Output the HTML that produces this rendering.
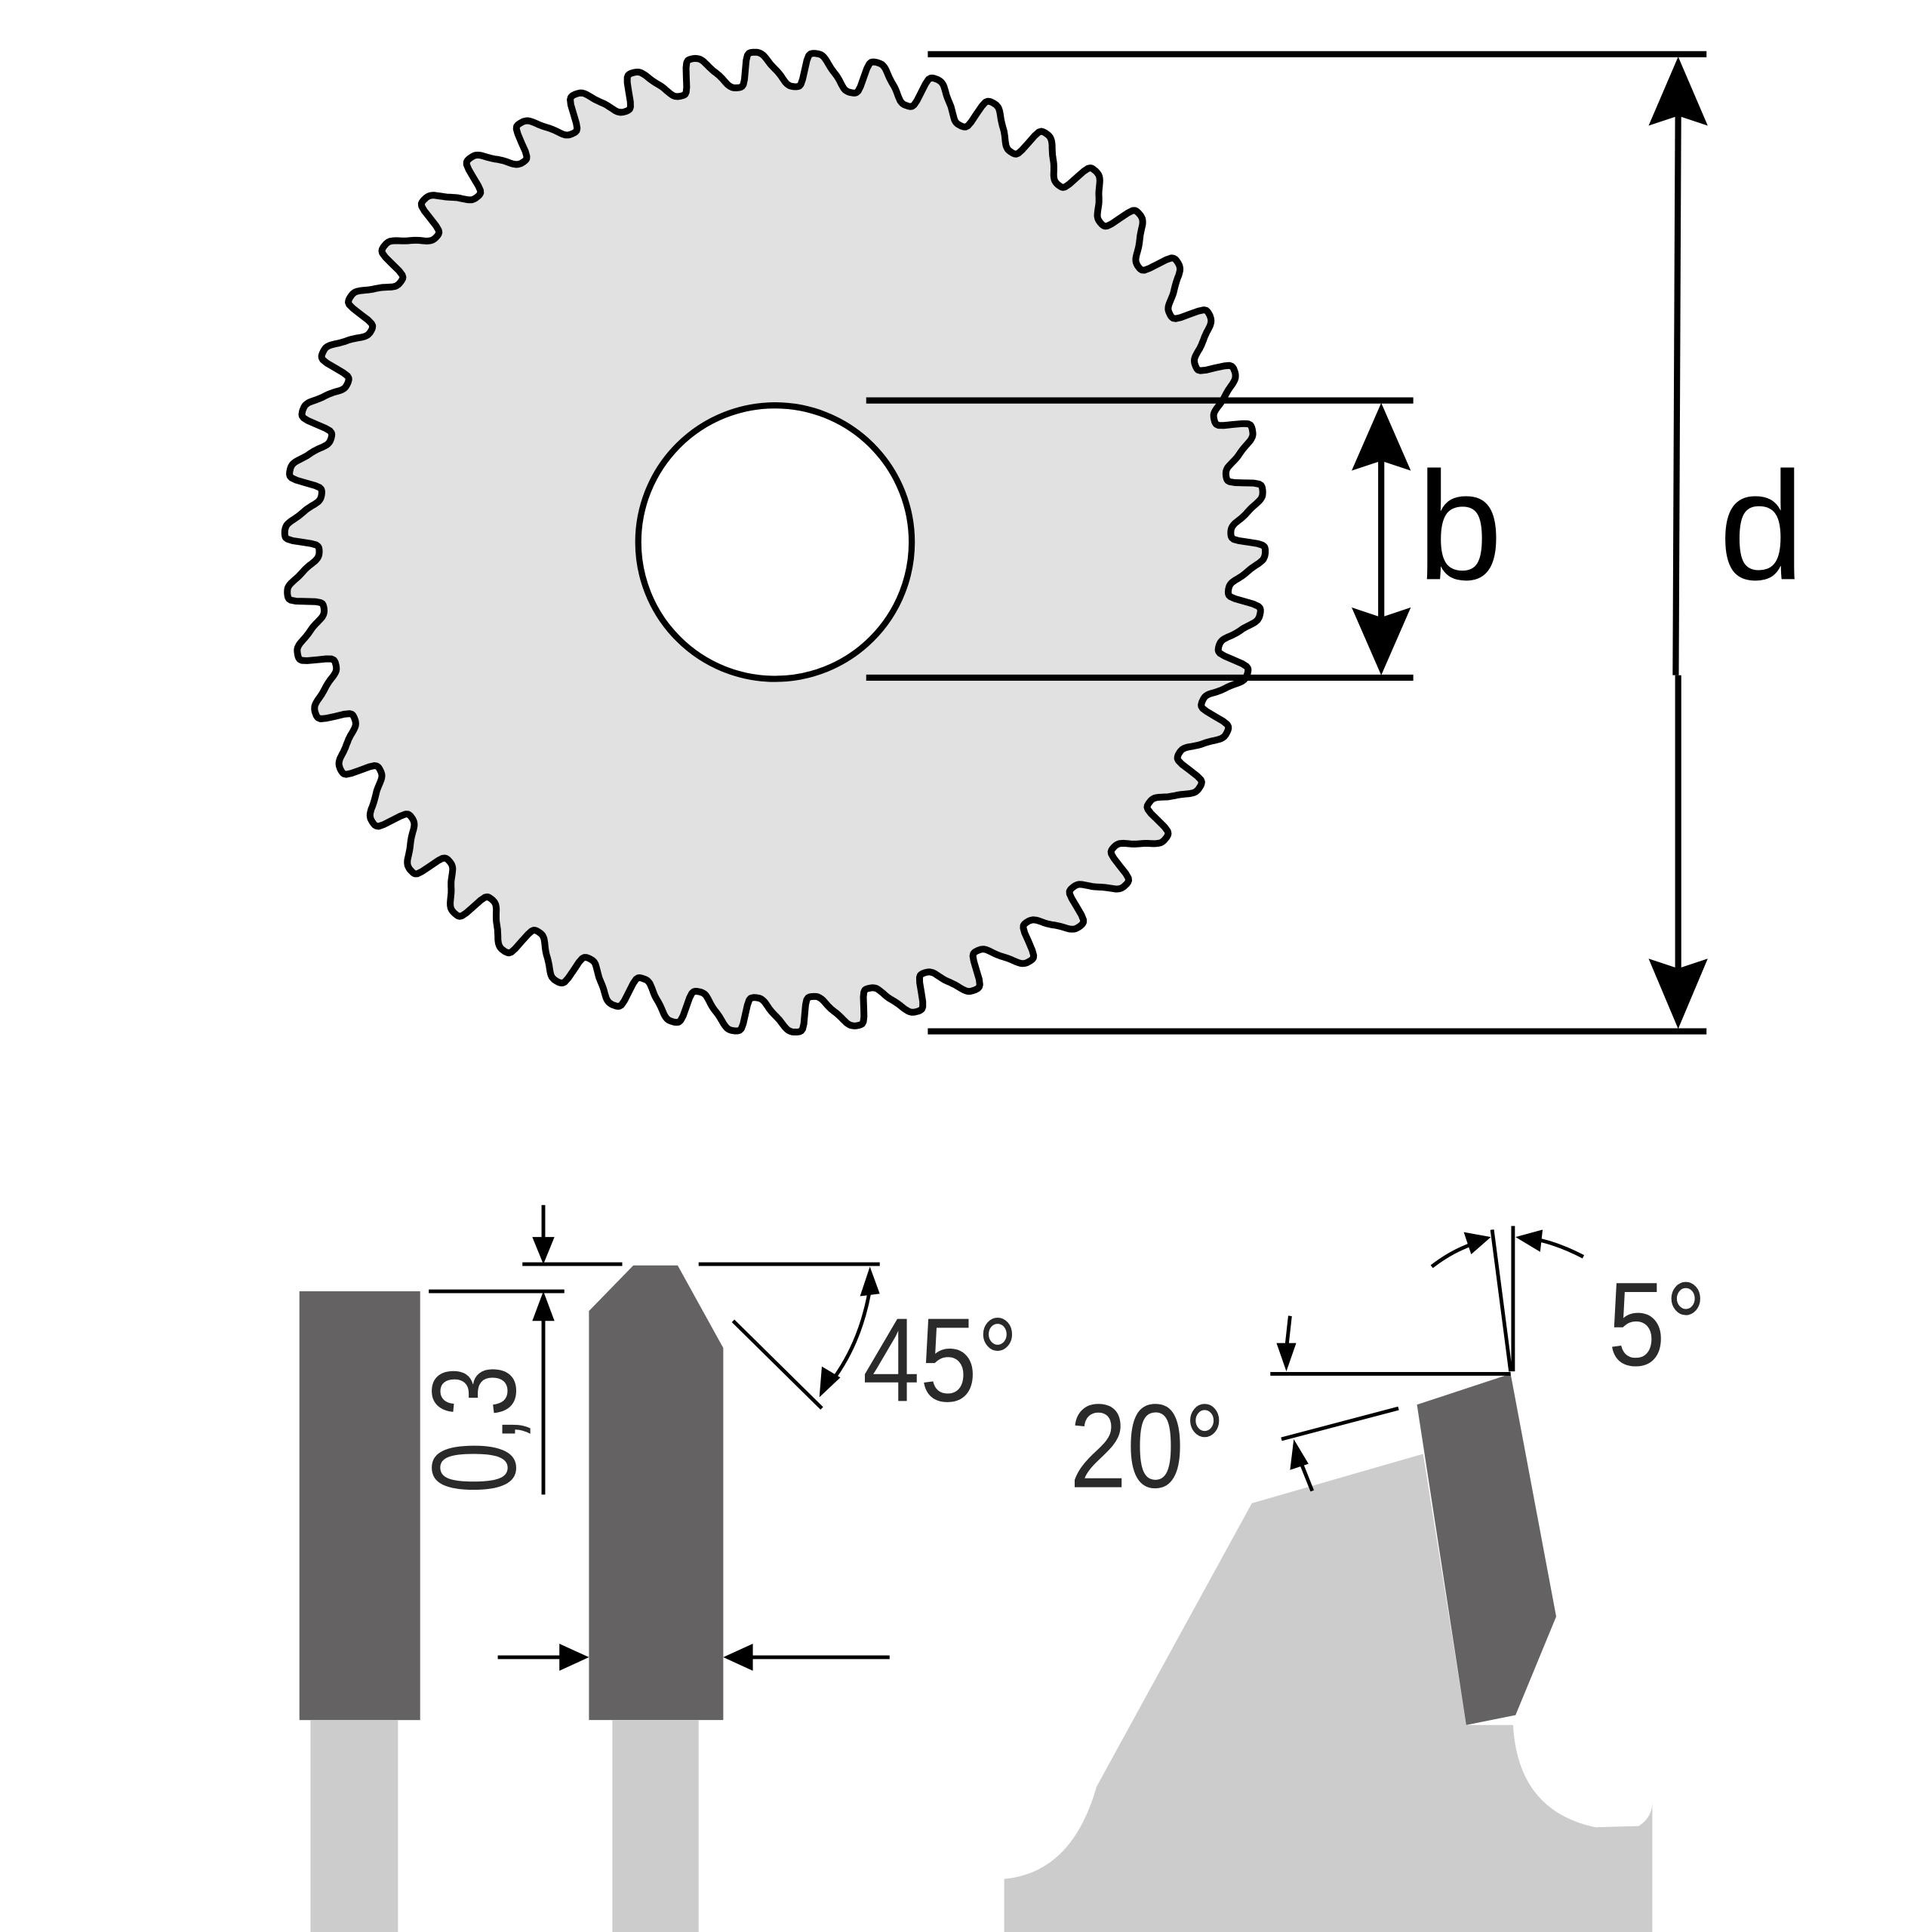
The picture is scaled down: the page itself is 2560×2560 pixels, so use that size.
<!DOCTYPE html>
<html><head><meta charset="utf-8"><style>
html,body{margin:0;padding:0;background:#fff}
svg{display:block}
text{font-family:"Liberation Sans",sans-serif}
</style></head><body>
<svg id="s" width="2560" height="2560" viewBox="0 0 1568 1568" xmlns="http://www.w3.org/2000/svg">
<rect width="1568" height="1568" fill="#fff"/>
<path id="gear" fill="#e1e1e1" stroke="#000" stroke-width="5.5" stroke-linejoin="round" d=""/>
<circle cx="629" cy="440" r="111" fill="#fff" stroke="#000" stroke-width="5"/>
<g stroke="#000" stroke-width="5">
<line x1="753" y1="44" x2="1385" y2="44"/>
<line x1="753" y1="837" x2="1385" y2="837"/>
<line x1="703" y1="325" x2="1147" y2="325"/>
<line x1="703" y1="550" x2="1147" y2="550"/>
<line x1="1362" y1="90" x2="1360" y2="548"/>
<line x1="1362" y1="548" x2="1362" y2="790"/>
<line x1="1121" y1="370" x2="1121" y2="505"/>
</g>
<g fill="#000">
<polygon points="1362,46 1338,102 1362,94 1386,102"/>
<polygon points="1362,835 1338,778 1362,786 1386,778"/>
<polygon points="1121,327 1097,382 1121,374 1145,382"/>
<polygon points="1121,548 1097,493 1121,501 1145,493"/>
</g>
<text x="1150" y="470" font-size="125">b</text>
<text x="1395" y="470" font-size="125">d</text>

<rect x="243" y="1048" width="98" height="348" fill="#646263"/>
<rect x="252" y="1396" width="71" height="172" fill="#cccccc"/>
<polygon points="478,1064 514,1027 550,1027 587,1094 587,1396 478,1396" fill="#646263"/>
<rect x="497" y="1396" width="70" height="172" fill="#cccccc"/>
<g stroke="#000" stroke-width="3" fill="none">
<line x1="424" y1="1026" x2="505" y2="1026"/>
<line x1="567" y1="1026" x2="714" y2="1026"/>
<line x1="348" y1="1048" x2="458" y2="1048"/>
<line x1="441" y1="978" x2="441" y2="1010"/>
<line x1="441" y1="1065" x2="441" y2="1213"/>
<line x1="595" y1="1072" x2="667" y2="1143"/>
<path d="M707,1040 Q700,1090 672,1125"/>
<line x1="404" y1="1345" x2="460" y2="1345"/>
<line x1="605" y1="1345" x2="722" y2="1345"/>
</g>
<g fill="#000">
<polygon points="441,1026 432,1004 450,1004"/>
<polygon points="441,1048 432,1072 450,1072"/>
<polygon points="706,1028 698,1052 714,1050"/>
<polygon points="665,1134 667,1109 682,1118"/>
<polygon points="478,1345 454,1334 454,1356"/>
<polygon points="587,1345 611,1334 611,1356"/>
</g>
<text transform="translate(418,1212) rotate(-90) scale(0.85,1.1)" font-size="88" fill="#2a2a2a">0,3</text>
<text transform="translate(700,1137) scale(0.95,1.1)" font-size="88" fill="#2a2a2a">45°</text>

<path d="M815,1568 L815,1525 Q870,1520 890,1450 L1016,1220 L1155,1180 L1190,1400 L1228,1400 Q1232,1470 1295,1483 L1330,1482 Q1341,1475 1341,1462 L1341,1568 Z" fill="#cccccc"/>
<polygon points="1150,1140 1226,1115 1263,1312 1230,1392 1190,1400" fill="#646263"/>
<g stroke="#000" stroke-width="3" fill="none">
<line x1="1031" y1="1115" x2="1226" y2="1115"/>
<line x1="1228" y1="995" x2="1228" y2="1113"/>
<line x1="1211" y1="998" x2="1226" y2="1113"/>
<line x1="1047" y1="1068" x2="1044" y2="1095"/>
<line x1="1040" y1="1168" x2="1135" y2="1143"/>
<line x1="1065" y1="1210" x2="1055" y2="1185"/>
<path d="M1162,1028 Q1180,1014 1200,1008"/>
<path d="M1285,1020 Q1262,1008 1242,1005"/>
</g>
<g fill="#000">
<polygon points="1044,1113 1036,1090 1052,1090"/>
<polygon points="1050,1168 1047,1193 1062,1188"/>
<polygon points="1210,1004 1188,1000 1194,1018"/>
<polygon points="1230,1004 1252,998 1250,1016"/>
</g>
<text transform="translate(1305,1108) scale(0.95,1.1)" font-size="88" fill="#2a2a2a">5°</text>
<text transform="translate(868,1207) scale(0.95,1.1)" font-size="88" fill="#2a2a2a">20°</text>
</svg>
<script>
(function(){
var cx=629,cy=440,N=50,S=40,pts=[],M=N*S;
for(var k=0;k<M;k++){
 var t=k/S; var f=t-Math.floor(t);
 var tp=f+0.12*Math.sin(2*Math.PI*f);
 var s=Math.sin(2*Math.PI*tp);
 var r=384+14*Math.tanh(2.2*s)/Math.tanh(2.2);
 var a=t/N*2*Math.PI;
 pts.push((cx+r*Math.cos(a)).toFixed(1)+","+(cy+r*Math.sin(a)).toFixed(1));
}
document.getElementById("gear").setAttribute("d","M"+pts.join(" L")+" Z");
})();
</script>
</body></html>
